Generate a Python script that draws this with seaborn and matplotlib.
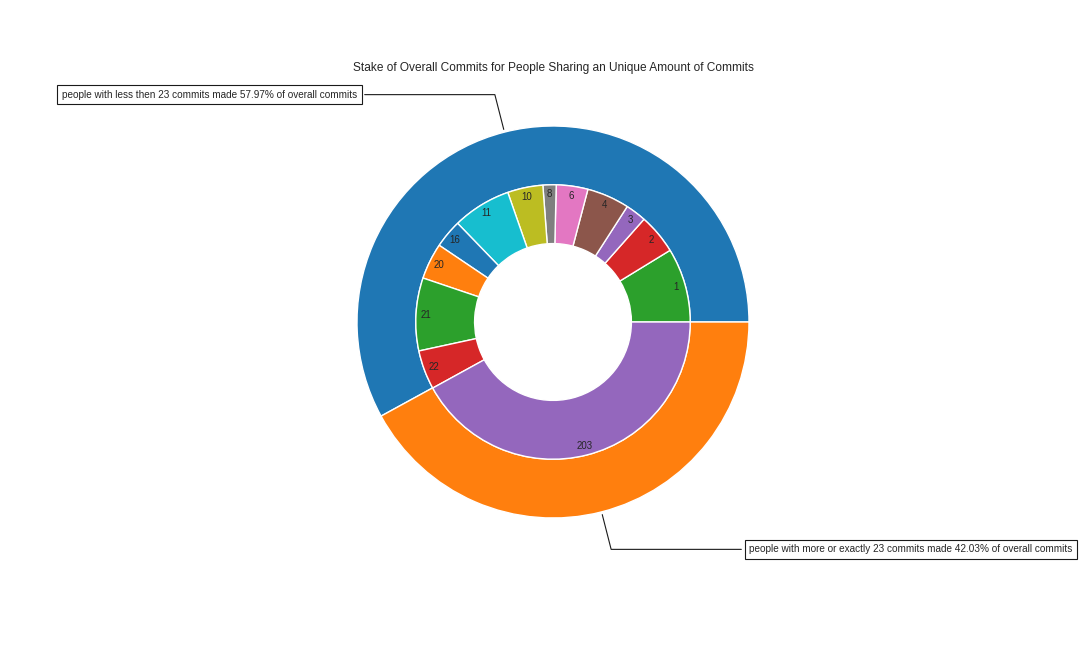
import numpy as np
import matplotlib
matplotlib.use("Agg")
import matplotlib.pyplot as plt
import seaborn as sns

# ---- data ----
outer_labels = ["less then 23", "more or exactly 23"]
outer_values = [57.97, 42.03]
inner_labels = ["1", "2", "3", "4", "6", "8", "10", "11", "16", "20", "21", "22", "203"]
inner_values = [315, 170, 88, 180, 134, 56, 150, 248, 120, 153, 309, 166, 1513]
annotations = [
    "people with less then 23 commits made 57.97% of overall commits",
    "people with more or exactly 23 commits made 42.03% of overall commits",
]
title = "Stake of Overall Commits for People Sharing an Unique Amount of Commits"

sns.set_theme(style="white")
plt.rcParams["font.family"] = ["Liberation Sans", "DejaVu Sans"]
plt.rcParams["text.color"] = "#262626"

pal = sns.color_palette("tab10")
outer_colors = [pal[i % 10] for i in range(len(outer_values))]
inner_colors = [pal[(i + len(outer_values)) % 10] for i in range(len(inner_values))]

fig = plt.figure(figsize=(10.8, 6.48), dpi=100)
ax = fig.add_axes([308 / 1080, 81 / 648, 490 / 1080, 490 / 648])

size = 0.3
wedges, _ = ax.pie(outer_values, radius=1, colors=outer_colors,
                   wedgeprops=dict(width=size, edgecolor="w", linewidth=1))
ax.pie(inner_values, radius=1 - size, colors=inner_colors, labels=inner_labels,
       labeldistance=0.93,
       textprops=dict(ha="center", va="center", fontsize=7, color="#262626"),
       wedgeprops=dict(width=size, edgecolor="w", linewidth=1))

ax.set_xlim(-1.25, 1.25)
ax.set_ylim(-1.25, 1.25)
ax.set_aspect("equal")
ax.axis("off")

bbox_props = dict(boxstyle="square,pad=0.45", fc="w", ec="k", lw=0.8)
for i, p in enumerate(wedges):
    ang = (p.theta2 - p.theta1) / 2.0 + p.theta1
    y = np.sin(np.deg2rad(ang))
    x = np.cos(np.deg2rad(ang))
    ha = {-1: "right", 1: "left"}[int(np.sign(x))]
    ax.annotate(annotations[i], xy=(x, y), xytext=(1.0 * np.sign(x), 1.16 * np.sign(y)),
                ha=ha, va="center", fontsize=7.2, color="#262626", bbox=bbox_props,
                annotation_clip=False, zorder=0,
                arrowprops=dict(arrowstyle="-", color="k", lw=0.8,
                                connectionstyle=f"angle,angleA=0,angleB={ang}"))

fig.text(553.5 / 1080, 1 - 68 / 648, title, ha="center", va="center", fontsize=8.6, color="#262626")

fig.savefig("out.png", dpi=100)
